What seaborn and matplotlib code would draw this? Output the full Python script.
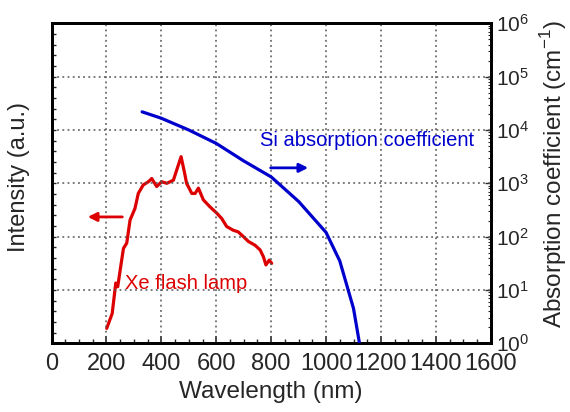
import matplotlib
matplotlib.use("Agg")
import matplotlib.pyplot as plt
import matplotlib.ticker as mticker
import numpy as np
import pandas as pd
import seaborn as sns

# Xe flash lamp spectrum (left axis, arbitrary units)
lamp_nm = [201, 221, 234, 241, 250, 262, 274, 286, 304, 316, 334, 353, 365, 383,
           401, 420, 432, 444, 456, 472, 486, 492, 511, 523, 535, 553, 577, 602,
           620, 638, 662, 680, 699, 717, 741, 760, 772, 781, 793, 802]
lamp_int = [2.8, 5.6, 11.3, 10.6, 13.7, 17.8, 18.8, 23.1, 25.3, 28.1, 29.7, 30.3,
            30.9, 29.4, 30.3, 30.0, 30.3, 30.6, 32.5, 35.0, 31.6, 30.0, 28.1, 28.1,
            29.1, 26.9, 25.6, 24.4, 23.4, 21.9, 21.2, 20.9, 20.0, 19.1, 18.4, 17.5,
            16.2, 14.7, 15.6, 15.0]

# Si absorption coefficient (right axis, cm^-1)
si_nm = [330, 400, 500, 600, 700, 800, 900, 1000, 1050, 1100, 1125]
si_alpha = [2.19e4, 1.66e4, 1.0e4, 5.6e3, 2.63e3, 1.32e3, 4.57e2, 1.2e2, 35, 4.5, 0.8]

lamp_df = pd.DataFrame({"nm": lamp_nm, "intensity": lamp_int})
si_df = pd.DataFrame({"nm": si_nm, "alpha": si_alpha})

sns.set_theme(style="ticks")
plt.rcParams["font.family"] = ["Liberation Sans", "DejaVu Sans"]
plt.rcParams["mathtext.fontset"] = "custom"
plt.rcParams["mathtext.rm"] = "Liberation Sans"

RED = "#dd0000"
BLUE = "#0000cc"
GRID = "#555555"

fig = plt.figure(figsize=(5.7, 4.12), dpi=100)
ax = fig.add_axes([0.0904, 0.1667, 0.7706, 0.7767])
ax2 = ax.twinx()

# left axis: intensity, linear, no labels
sns.lineplot(data=lamp_df, x="nm", y="intensity", color=RED, lw=2.3, ax=ax,
             zorder=4, estimator=None, sort=False)
ax.set_xlim(0, 1600)
ax.set_ylim(0, 60)
ax.xaxis.set_major_locator(mticker.MultipleLocator(200))
ax.xaxis.set_minor_locator(mticker.MultipleLocator(50))
ax.yaxis.set_major_locator(mticker.MultipleLocator(10))
ax.yaxis.set_minor_locator(mticker.MultipleLocator(2))
ax.set_yticklabels([])
ax.tick_params(axis="x", which="both", direction="in", labelsize=17, pad=7)
ax.tick_params(axis="x", which="major", length=5, width=1.2)
ax.tick_params(axis="x", which="minor", length=3, width=1)
ax.tick_params(axis="y", which="both", direction="in", length=3, width=1)
ax.set_xlabel("Wavelength (nm)", fontsize=17.5, labelpad=4)
ax.set_ylabel("Intensity (a.u.)", fontsize=17, labelpad=12)
ax.yaxis.label.set_y(0.519)

# right axis: absorption coefficient, log
sns.lineplot(data=si_df, x="nm", y="alpha", color=BLUE, lw=2.3, ax=ax2,
             zorder=4, estimator=None, sort=False)
ax2.set_yscale("log")
ax2.set_ylim(1, 1e6)
ax2.yaxis.set_major_locator(mticker.LogLocator(base=10, numticks=10))
ax2.yaxis.set_minor_locator(mticker.LogLocator(base=10, subs=np.arange(2, 10), numticks=10))
ax2.yaxis.set_minor_formatter(mticker.NullFormatter())
ax2.tick_params(axis="y", which="major", direction="in", length=4, width=1, labelsize=15, pad=4)
ax2.tick_params(axis="y", which="minor", direction="in", length=2.5, width=0.8)
ax2.set_ylabel("Absorption coefficient (cm$^{-1}$)", fontsize=17.5, labelpad=6)
ax2.yaxis.label.set_y(0.529)
ax2.set_xlabel("")

# dotted grid on both directions
for x in range(200, 1600, 200):
    ax2.axvline(x, color=GRID, ls=(0, (1.2, 2.2)), lw=1.1, zorder=1)
for y in [1e1, 1e2, 1e3, 1e4, 1e5]:
    ax2.axhline(y, color=GRID, ls=(0, (1.2, 2.2)), lw=1.1, zorder=1)

for a in (ax, ax2):
    for s in a.spines.values():
        s.set_linewidth(2)
        s.set_color("black")

# annotations
ax2.annotate("", xy=(122, 10**2.37), xytext=(268, 10**2.37),
             arrowprops=dict(arrowstyle="-|>", color=RED, lw=2, mutation_scale=13))
ax2.annotate("", xy=(945, 10**3.29), xytext=(788, 10**3.29),
             arrowprops=dict(arrowstyle="-|>", color=BLUE, lw=2, mutation_scale=13))
ax2.text(760, 10**3.81, "Si absorption coefficient", color=BLUE, fontsize=14.5,
         ha="left", va="center")
ax.text(268, 11.3, "Xe flash lamp", color=RED, fontsize=14.5, ha="left", va="center")

fig.savefig("out.png", dpi=100)
